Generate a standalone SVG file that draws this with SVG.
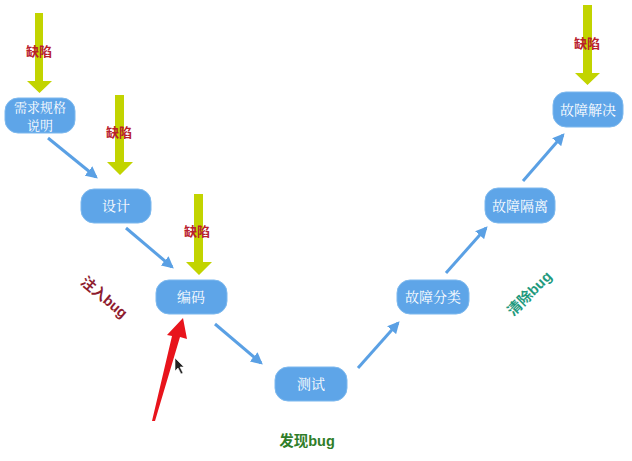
<svg xmlns="http://www.w3.org/2000/svg" width="632" height="461" viewBox="0 0 632 461">
<defs>
<style>
.node rect{fill:#5ea5e8;stroke:#7cb8ee;stroke-width:1}
.node text{fill:#ffffff;font-family:"Noto Serif CJK SC","Noto Sans CJK SC",serif;font-size:14px;text-anchor:middle}
.node text.sm{font-size:13px}
.conn line{stroke:#5aa0e4;stroke-width:3;fill:none;marker-end:url(#ah)}
.defect{fill:#c2d400}
.dtext{fill:#b8202c;font-family:"Noto Sans CJK SC",sans-serif;font-size:13px;font-weight:bold;text-anchor:middle}
.lbl{font-family:"Liberation Sans","Noto Sans CJK SC",sans-serif;font-size:14.5px;font-weight:bold;text-anchor:middle}
</style>
<marker id="ah" viewBox="0 0 10 10" refX="8" refY="5" markerWidth="4" markerHeight="4" orient="auto" markerUnits="strokeWidth">
<path d="M0,0 L10,5 L0,10 z" fill="#5aa0e4"/>
</marker>
</defs>
<rect width="632" height="461" fill="#ffffff"/>

<g id="connectors" class="conn">
<line x1="48" y1="138" x2="96" y2="177"/>
<line x1="126" y1="228" x2="172" y2="267"/>
<line x1="215" y1="324" x2="261" y2="363"/>
<line x1="358" y1="368" x2="398" y2="323"/>
<line x1="446" y1="273" x2="486" y2="228"/>
<line x1="523" y1="181" x2="563" y2="135"/>
</g>

<g id="defects">
<g id="defect1"><path class="defect" d="M35,13 H43 V81 H52 L39.5,93 L27,81 H35 Z"/><text class="dtext" x="39" y="56">缺陷</text></g>
<g id="defect2"><path class="defect" d="M115,95 H124 V162 H133 L120,175 L107,162 H115 Z"/><text class="dtext" x="119" y="137">缺陷</text></g>
<g id="defect3"><path class="defect" d="M194,194 H203 V262 H212 L199,275 L186,262 H194 Z"/><text class="dtext" x="197" y="236">缺陷</text></g>
<g id="defect4"><path class="defect" d="M583,5 H592 V73 H600 L587.5,85 L575,73 H583 Z"/><text class="dtext" x="587" y="48">缺陷</text></g>
</g>

<g id="n1" class="node"><rect x="5" y="98" width="70" height="35" rx="13"/><text class="sm" x="40" y="112">需求规格</text><text class="sm" x="40" y="130">说明</text></g>
<g id="n2" class="node"><rect x="81" y="189" width="70" height="34" rx="13"/><text x="116" y="211">设计</text></g>
<g id="n3" class="node"><rect x="156" y="280" width="71" height="34" rx="13"/><text x="191" y="302">编码</text></g>
<g id="n4" class="node"><rect x="275" y="367" width="72" height="34" rx="13"/><text x="311" y="389">测试</text></g>
<g id="n5" class="node"><rect x="397" y="280" width="72" height="34" rx="13"/><text x="433" y="302">故障分类</text></g>
<g id="n6" class="node"><rect x="485" y="188" width="70" height="35" rx="13"/><text x="520" y="211">故障隔离</text></g>
<g id="n7" class="node"><rect x="553" y="92" width="70" height="35" rx="13"/><text x="588" y="115">故障解决</text></g>

<g id="red-arrow">
<path d="M152,421 L172,336 L167,335 L183,318 L187,339 L180,337 L155,421 Z" fill="#e8141c"/>
</g>
<path d="M175,358 L175,371 L178,368 L181,374 L183,373 L180,367 L184,367 Z" fill="#222" stroke="#fff" stroke-width="0.6"/>

<text class="lbl" fill="#8e1b2e" transform="translate(101,301) rotate(40)">注入bug</text>
<text class="lbl" fill="#2f7d28" x="307" y="446">发现bug</text>
<text class="lbl" fill="#1f9a7e" transform="translate(533,297) rotate(-45)">清除bug</text>
</svg>
